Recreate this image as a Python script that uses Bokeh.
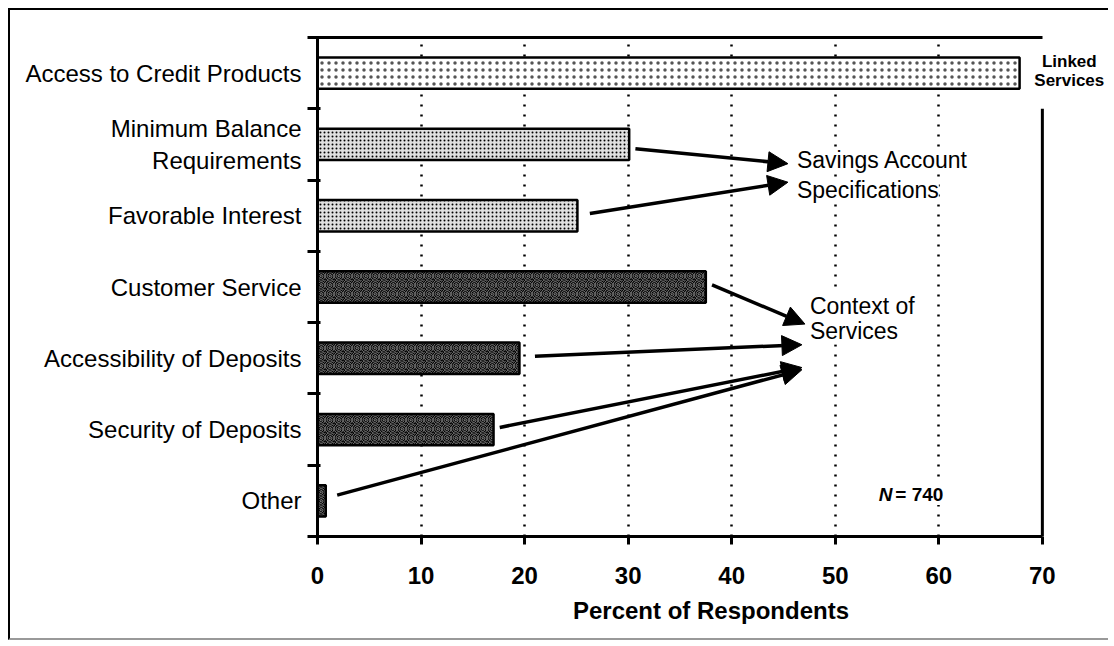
from bokeh.plotting import figure
from bokeh.models import (FixedTicker, LinearAxis, Label, Arrow, NormalHead, Range1d)
from bokeh.embed import file_html
from bokeh.resources import INLINE

# ---- data ----
categories = ["Access to Credit Products", "Minimum Balance\nRequirements", "Favorable Interest",
              "Customer Service", "Accessibility of Deposits", "Security of Deposits", "Other"]
values = [67.8, 30.1, 25.1, 37.5, 19.5, 17.0, 0.8]
groups = ["Linked", "Savings", "Savings", "Context", "Context", "Context", "Context"]
x_ticks = [0, 10, 20, 30, 40, 50, 60, 70]
x_title = "Percent of Respondents"
n_note = "740"

FONT = "Liberation Sans"
n = len(categories)
ypos = [n - 1 - i for i in range(n)]  # top category highest
XMAX = 70

p = figure(width=1100, height=632, output_backend="svg", toolbar_location=None,
           x_range=Range1d(0, 76.0), y_range=Range1d(-0.5, n - 0.5),
           min_border_left=307, min_border_right=6, min_border_top=27, min_border_bottom=106)
p.styles = {"border-left": "2px solid black", "border-top": "2px solid black",
            "border-bottom": "2px solid #999999",
            "margin-left": "8px", "margin-top": "8px"}
p.outline_line_color = None
p.background_fill_color = "white"
p.border_fill_color = "white"

# grid
p.ygrid.visible = False
p.xgrid.ticker = FixedTicker(ticks=x_ticks[1:-1])
p.xgrid.grid_line_color = "black"
p.xgrid.grid_line_width = 2.5
p.xgrid.grid_line_dash = "2 8"

# x axis
xa = p.xaxis[0]
xa.ticker = FixedTicker(ticks=x_ticks)
xa.bounds = (0, XMAX)
xa.axis_line_width = 3
xa.major_tick_line_width = 3
xa.major_tick_out = 8
xa.major_tick_in = 0
xa.minor_tick_line_color = None
xa.major_label_text_font = FONT
xa.major_label_text_font_style = "bold"
xa.major_label_text_font_size = "24px"
xa.major_label_text_color = "black"
xa.major_label_standoff = 22
xa.axis_label = x_title
xa.axis_label_text_font = FONT
xa.axis_label_text_font_style = "bold"
xa.axis_label_text_font_size = "24px"
xa.axis_label_text_color = "black"
xa.axis_label_standoff = 10

# y axis
ya = p.yaxis[0]
ya.ticker = FixedTicker(ticks=ypos, minor_ticks=[y + 0.5 for y in range(-1, n)])
ya.major_label_overrides = {y: c for y, c in zip(ypos, categories)}
ya.axis_line_width = 3
ya.major_tick_out = 0
ya.major_tick_in = 0
ya.minor_tick_out = 10
ya.minor_tick_in = 3
ya.minor_tick_line_width = 3
ya.minor_tick_line_color = "black"
ya.major_label_text_font = FONT
ya.major_label_text_font_size = "24px"
ya.major_label_text_color = "black"
ya.major_label_standoff = 6

# frame: top line and right line (broken near "Linked Services")
top = LinearAxis(ticker=FixedTicker(ticks=[]), major_label_text_font_size="0px", bounds=(0, XMAX),
                 axis_line_width=3, major_tick_line_color=None, minor_tick_line_color=None)
p.add_layout(top, "above")
p.segment(x0=[XMAX], y0=[-0.5], x1=[XMAX], y1=[n - 1.5], line_color="black", line_width=3)

# bars
styles = {
    "Linked": dict(fill_color="white", hatch_pattern="dot", hatch_scale=7, hatch_color="#555555"),
    "Savings": dict(fill_color="#e0e0e0", hatch_pattern="dot", hatch_scale=4, hatch_color="black"),
    "Context": dict(fill_color="black", hatch_pattern="spiral", hatch_scale=9, hatch_weight=0.7,
                    hatch_color="white", hatch_alpha=0.75),
}
for g, st in styles.items():
    ys = [y for y, gg in zip(ypos, groups) if gg == g]
    vs = [v for v, gg in zip(values, groups) if gg == g]
    p.hbar(y=ys, right=vs, left=0, height=0.44, line_color="black", line_width=2.5, **st)

# annotation labels
def lab(x, y, t, size="23px", style="normal", bg="white", align="left"):
    l = Label(x=x, y=y, text=t, text_font=FONT, text_font_size=size, text_font_style=style,
              text_color="black", text_baseline="middle", text_align=align, background_fill_color=bg)
    p.add_layout(l)

lab(46.3, 4.78, "Savings Account")
lab(46.3, 4.36, "Specifications")
lab(47.55, 2.73, "Context of")
lab(47.55, 2.38, "Services")
lab(54.2, 0.09, "N", size="19px", style="bold italic")
lab(55.8, 0.09, "= " + n_note, size="19px", style="bold")
lab(72.6, 6.17, "Linked", size="17px", style="bold", align="center")
lab(72.6, 5.90, "Services", size="17px", style="bold", align="center")

# arrows from bars to group labels
targets = {"Savings": [(45.43, 4.73), (45.43, 4.47)],
           "Context": [(47.07, 2.48), (46.78, 2.19), (46.78, 1.87), (46.78, 1.84)]}
gaps = [0.6, 1.2, 0.6, 1.5, 0.6, 1.1]
dys = [-0.06, 0.03, 0.03, 0.03, 0.03, 0.08]
counters = {"Savings": 0, "Context": 0}
k = 0
for y, v, g in zip(ypos, values, groups):
    if g not in targets:
        continue
    tx, ty = targets[g][counters[g]]
    counters[g] += 1
    p.add_layout(Arrow(x_start=v + gaps[k], y_start=y + dys[k], x_end=tx, y_end=ty,
                       line_width=3.5, line_color="black",
                       end=NormalHead(size=20, fill_color="black", line_color="black")))
    k += 1

open("out.html", "w").write(file_html(p, INLINE))
